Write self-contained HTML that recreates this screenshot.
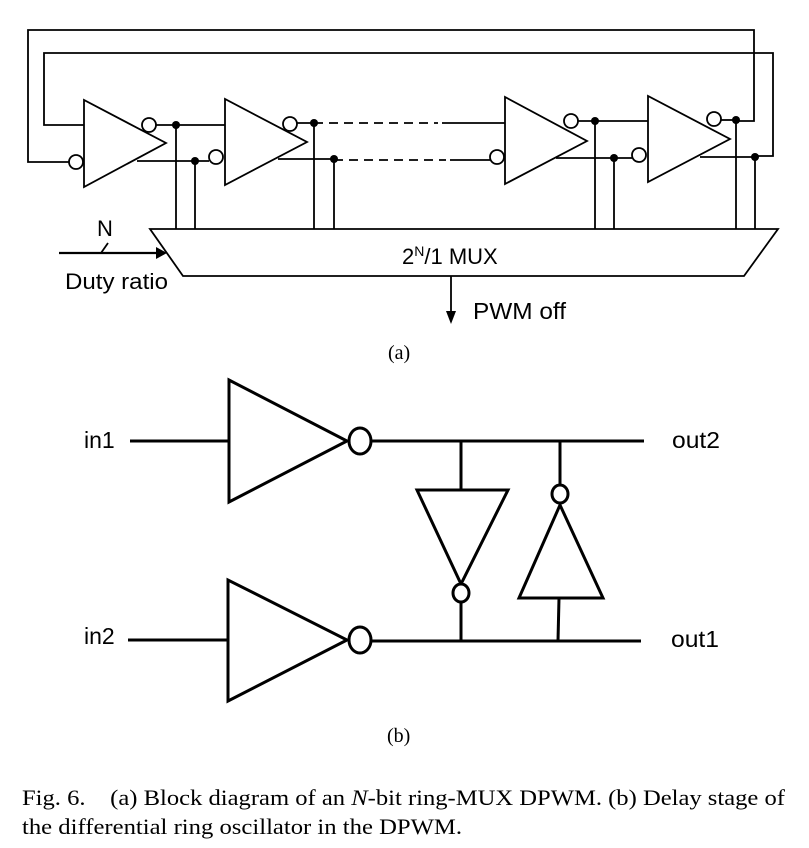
<!DOCTYPE html>
<html><head><style>
html,body{margin:0;padding:0;background:#fff;}
svg{display:block;}
</style></head><body>
<svg width="809" height="848" viewBox="0 0 809 848" xmlns="http://www.w3.org/2000/svg">
<g fill="none" stroke="#000" stroke-width="1.8">
<polyline points="69,162 28,162 28,30 754,30 754,121 736,121"/>
<polyline points="84,125 44,125 44,53 773,53 773,156 755,156"/>
<polygon points="84,100 84,187 166,143"/>
<polygon points="225,99 225,185 307,142"/>
<polygon points="505,97 505,184 587,141"/>
<polygon points="648,96 648,182 730,139"/>
<circle cx="76" cy="162" r="7" fill="#fff"/>
<circle cx="149" cy="125" r="7" fill="#fff"/>
<circle cx="216" cy="157" r="7" fill="#fff"/>
<circle cx="290" cy="124" r="7" fill="#fff"/>
<circle cx="497" cy="157" r="7" fill="#fff"/>
<circle cx="571" cy="121" r="7" fill="#fff"/>
<circle cx="639" cy="155" r="7" fill="#fff"/>
<circle cx="714" cy="119" r="7" fill="#fff"/>
<line x1="156" y1="125" x2="225" y2="125"/>
<line x1="137" y1="161" x2="209" y2="161"/>
<line x1="297" y1="123" x2="314" y2="123"/>
<line x1="278" y1="159" x2="334" y2="159"/>
<line x1="314" y1="123" x2="438" y2="123" stroke-dasharray="9,6"/>
<line x1="442" y1="123" x2="505" y2="123"/>
<line x1="334" y1="160" x2="446" y2="160" stroke-dasharray="9,6"/>
<line x1="450" y1="160" x2="490" y2="160"/>
<line x1="578" y1="121" x2="648" y2="121"/>
<line x1="556" y1="158" x2="632" y2="158"/>
<line x1="721" y1="120" x2="736" y2="120"/>
<line x1="700" y1="157" x2="755" y2="157"/>
<line x1="176" y1="125" x2="176" y2="229"/>
<line x1="195" y1="161" x2="195" y2="229"/>
<line x1="314" y1="123" x2="314" y2="229"/>
<line x1="334" y1="159" x2="334" y2="229"/>
<line x1="595" y1="121" x2="595" y2="229"/>
<line x1="614" y1="158" x2="614" y2="229"/>
<line x1="736" y1="120" x2="736" y2="229"/>
<line x1="755" y1="157" x2="755" y2="229"/>
<polygon points="150,229 778,229 744,276 183,276"/>
<line x1="59" y1="253" x2="158" y2="253" stroke-width="2.2"/>
<line x1="101" y1="253" x2="108" y2="243"/>
<line x1="451" y1="276" x2="451" y2="314"/>
</g>
<g fill="#000">
<circle cx="176" cy="125" r="4"/><circle cx="195" cy="161" r="4"/>
<circle cx="314" cy="123" r="4"/><circle cx="334" cy="159" r="4"/>
<circle cx="595" cy="121" r="4"/><circle cx="614" cy="158" r="4"/>
<circle cx="736" cy="120" r="4"/><circle cx="755" cy="157" r="4"/>
<polygon points="156,247 167,253 156,259"/>
<polygon points="446,311 451,324 456,311"/>
</g>
<g font-family="Liberation Sans, Arial, sans-serif" fill="#000">
<text x="97" y="236" font-size="22">N</text>
<text x="65" y="289" font-size="22" textLength="103" lengthAdjust="spacingAndGlyphs">Duty ratio</text>
<text x="402" y="264" font-size="22">2<tspan font-size="14" dy="-8">N</tspan><tspan dy="8">/1 MUX</tspan></text>
<text x="473" y="319" font-size="23" textLength="93" lengthAdjust="spacingAndGlyphs">PWM off</text>
<text x="84" y="448" font-size="23">in1</text>
<text x="84" y="644" font-size="23">in2</text>
<text x="672" y="448" font-size="23" textLength="48" lengthAdjust="spacingAndGlyphs">out2</text>
<text x="671" y="647" font-size="23" textLength="48" lengthAdjust="spacingAndGlyphs">out1</text>
</g>
<g fill="none" stroke="#000" stroke-width="3">
<polygon points="229,380 229,502 347,441"/>
<polygon points="228,580 228,701 347,640"/>
<ellipse cx="360" cy="441" rx="11" ry="13" fill="#fff"/>
<ellipse cx="360" cy="640" rx="11" ry="13" fill="#fff"/>
<line x1="130" y1="441" x2="229" y2="441"/>
<line x1="371" y1="441" x2="644" y2="441"/>
<line x1="128" y1="640" x2="228" y2="640"/>
<line x1="371" y1="641" x2="641" y2="641"/>
<polygon points="417,490 508,490 461,584"/>
<ellipse cx="461" cy="593" rx="8" ry="9" fill="#fff"/>
<line x1="461" y1="441" x2="461" y2="490"/>
<line x1="461" y1="602" x2="461" y2="641"/>
<polygon points="560,505 603,598 519,598"/>
<ellipse cx="560" cy="494" rx="8" ry="9" fill="#fff"/>
<line x1="560" y1="441" x2="560" y2="485"/>
<line x1="559" y1="598" x2="558" y2="641"/>
</g>
<g font-family="Liberation Serif, Times New Roman, serif" fill="#000">
<text x="388" y="359" font-size="20">(a)</text>
<text x="387" y="742" font-size="20">(b)</text>
<text x="22" y="805" font-size="22" textLength="763" lengthAdjust="spacingAndGlyphs">Fig. 6.&#160;&#160;&#160; (a) Block diagram of an <tspan font-style="italic">N</tspan>-bit ring-MUX DPWM. (b) Delay stage of</text>
<text x="22" y="834" font-size="22" textLength="440" lengthAdjust="spacingAndGlyphs">the differential ring oscillator in the DPWM.</text>
</g>
</svg>
</body></html>
